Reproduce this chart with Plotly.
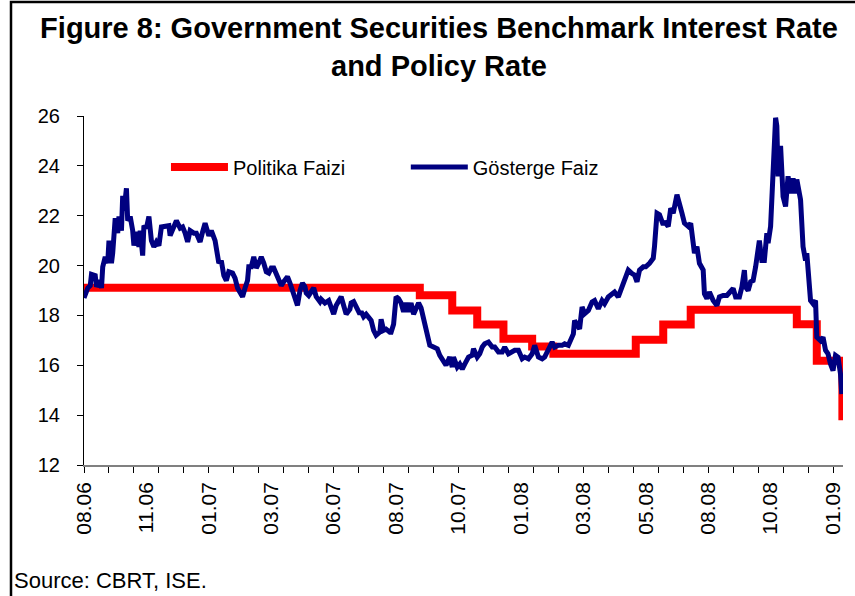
import plotly.graph_objects as go

# ---- data (x = trading-day index from the start of the axis) ----
tick_days = [0, 50, 100, 150, 200, 250, 300, 350, 400, 450, 500, 550, 600]
tick_labels = ["08.06", "11.06", "01.07", "03.07", "06.07", "08.07", "10.07",
               "01.08", "03.08", "05.08", "08.08", "10.08", "01.09"]

policy_day = [0, 269, 295, 315, 336, 359, 376, 442, 464, 486, 571, 587, 607.5]
policy_rate = [19.11, 18.81, 18.2, 17.64, 17.06, 16.75, 16.46, 17.02, 17.64,
               18.23, 17.65, 16.18, 13.8]

bench_day = [
    0, 3, 5, 6, 9, 10, 13, 14, 15, 17,
    19, 20, 22, 23, 25, 27, 28, 30, 31, 32,
    34, 35, 37, 39, 40, 42, 44, 45, 47, 48,
    50, 52, 54, 56, 58, 60, 62, 65, 68, 69,
    72, 74, 77, 79, 81, 83, 85, 88, 90, 93,
    95, 97, 100, 102, 105, 107, 108, 110, 112, 114,
    116, 119, 121, 123, 125, 127, 129, 131, 132, 134,
    136, 138, 140, 142, 144, 146, 148, 150, 152, 154,
    156, 158, 160, 163, 165, 167, 169, 171, 173, 175,
    177, 178, 180, 182, 184, 186, 189, 190, 193, 196,
    198, 200, 202, 205, 206, 208, 210, 213, 214, 216,
    218, 221, 222, 224, 226, 229, 230, 232, 234, 237,
    238, 240, 242, 245, 246, 248, 250, 252, 254, 256,
    258, 260, 262, 264, 266, 268, 270,
    273, 275, 277, 280, 283, 285, 288, 290, 293, 295,
    296, 299, 301, 303, 305, 308, 311, 312, 315, 317,
    319, 321, 324, 327, 329, 332, 335, 337, 340, 343,
    345, 348, 351, 353, 356, 359, 361, 364, 367, 369,
    372, 375, 377, 380, 383, 385, 388, 390, 392, 393,
    395, 397, 399, 401, 404, 407, 409, 412, 415, 417,
    420, 423, 425, 428, 431, 433, 436, 439, 441, 443,
    445, 448, 450, 453, 456, 457, 459, 461, 464, 465,
    468, 470, 472, 475, 477, 479, 481, 484, 486, 488,
    489, 491, 493, 496, 497, 499, 501, 504, 507, 509,
    512, 515, 517, 520, 522, 525, 527, 529, 530, 532,
    534, 536, 538, 540, 541, 543, 545, 547, 548, 550,
    551, 552, 554, 555, 556, 558, 560, 562, 564, 566,
    568, 570, 571, 574, 576, 578, 579, 582, 584, 586,
    587, 590, 592, 594, 596, 598, 600, 602, 604, 606,
    607,
]
bench_rate = [
    18.7, 19.1, 19.2, 19.65, 19.6, 19.15, 19.4, 19.1, 19.95, 20.35,
    20.1, 21.0, 20.1, 20.5, 21.9, 21.3, 21.97, 21.4, 22.8, 22.2,
    23.1, 21.8, 21.97, 21.4, 20.8, 21.35, 20.75, 21.4, 20.4, 21.6,
    21.5, 21.97, 21.0, 20.75, 20.95, 20.8, 21.55, 21.6, 21.6, 21.2,
    21.55, 21.8, 21.5, 21.55, 21.3, 20.95, 21.4, 21.3, 21.3, 20.95,
    21.35, 21.7, 21.2, 21.4, 21.0, 20.4, 20.1, 20.2, 19.6, 19.4,
    19.75, 19.7, 19.5, 19.1, 18.95, 18.75, 19.1, 19.4, 19.95, 19.95,
    20.35, 19.9, 20.1, 20.35, 20.1, 19.75, 19.7, 19.9, 19.9, 19.7,
    19.5, 19.2, 19.35, 19.55, 19.3, 18.95, 18.6, 18.4, 19.0, 19.3,
    19.15, 18.9, 18.8, 19.0, 19.1, 18.75, 18.55, 18.65, 18.5, 18.6,
    18.35, 18.05, 18.4, 18.6, 18.75, 18.4, 18.05, 18.25, 18.5, 18.55,
    18.35, 18.05, 18.15, 17.95, 18.05, 17.8, 17.8, 17.4, 17.2, 17.33,
    17.85, 17.4, 17.45, 17.33, 17.33, 17.65, 18.75, 18.67, 18.5, 18.15,
    18.5, 18.15, 18.5, 18.05, 18.25, 18.5, 18.3,
    17.65, 17.05, 16.8, 16.73, 16.66, 16.4, 16.2, 16.0, 16.33, 15.93,
    16.33, 15.93, 16.05, 15.85, 16.05, 16.33, 16.4, 16.66, 16.33, 16.46,
    16.73, 16.86, 16.93, 16.73, 16.73, 16.53, 16.53, 16.73, 16.46, 16.53,
    16.6, 16.6, 16.26, 16.33, 16.26, 16.46, 16.8, 16.33, 16.26, 16.33,
    16.66, 16.93, 16.73, 16.8, 16.8, 16.86, 16.8, 17.06, 17.26, 17.8,
    17.66, 17.46, 18.34, 18.07, 18.2, 18.54, 18.6, 18.27, 18.6, 18.47,
    18.74, 18.87, 18.94, 18.74, 19.14, 19.48, 19.82, 19.68, 19.62, 19.35,
    19.82, 19.95, 19.95, 20.09, 20.29, 20.76, 22.1, 22.04, 21.63, 21.77,
    21.57, 22.3, 22.1, 22.84, 22.37, 22.1, 21.7, 21.57, 21.7, 20.9,
    20.5, 20.76, 20.09, 19.82, 18.87, 18.67, 18.94, 18.6, 18.4, 18.74,
    18.8, 18.8, 18.94, 19.08, 18.74, 18.74, 19.14, 19.82, 19.14, 19.0,
    19.35, 19.4, 19.95, 20.76, 21.0, 20.2, 20.2, 21.3, 20.9, 21.57,
    22.64, 23.98, 25.93, 25.6, 23.58, 24.8, 22.77, 22.37, 23.58, 22.9,
    23.5, 22.9, 23.45, 22.64, 20.76, 20.2, 20.5, 18.6, 18.47, 18.6,
    17.13, 16.99, 17.13, 16.6, 16.46, 16.05, 15.79, 16.4, 16.33, 15.65,
    14.84,
]

minor_tick_days = list(range(0, 601, 20))

FONT = "Liberation Sans, Arial, sans-serif"

fig = go.Figure()
fig.add_trace(go.Scatter(
    x=policy_day, y=policy_rate, mode="lines", name="Politika Faizi",
    line=dict(color="#FF0000", width=8, shape="hv"), legend="legend",
))
fig.add_trace(go.Scatter(
    x=bench_day, y=bench_rate, mode="lines", name="Gösterge Faiz",
    line=dict(color="#000080", width=5), legend="legend2",
))

fig.update_layout(
    width=855, height=596,
    margin=dict(l=84, r=12, t=116, b=131),
    paper_bgcolor="white", plot_bgcolor="white",
    font=dict(family=FONT, color="black", size=20),
    title=dict(
        text="Figure 8: Government Securities Benchmark Interest Rate<br>and Policy Rate",
        x=439 / 855, xanchor="center", y=1 - 38 / 596, yanchor="middle",
        font=dict(family=FONT, size=29, color="black", weight="bold"),
    ),
    legend=dict(x=0.108, y=0.854, xanchor="left", yanchor="middle",
                orientation="h", itemwidth=57, bgcolor="rgba(0,0,0,0)",
                font=dict(size=20)),
    legend2=dict(x=0.424, y=0.854, xanchor="left", yanchor="middle",
                 orientation="h", itemwidth=57, bgcolor="rgba(0,0,0,0)",
                 font=dict(size=20)),
    showlegend=True,
)

fig.update_xaxes(
    range=[0, 608], showgrid=False, zeroline=False,
    showline=True, linecolor="#808080", linewidth=1.5,
    tickmode="array", tickvals=tick_days, ticktext=tick_labels,
    tickangle=-90, ticks="outside", ticklen=6, tickcolor="rgba(0,0,0,0)",
    ticklabelstandoff=1,
    tickfont=dict(size=21),
    minor=dict(tickmode="array", tickvals=minor_tick_days, ticks="outside",
               ticklen=6, tickcolor="black", tickwidth=1, showgrid=False),
)
fig.update_yaxes(
    range=[12, 26], dtick=2, tick0=12, showgrid=False, zeroline=False,
    showline=True, linecolor="black", linewidth=1,
    ticks="outside", ticklen=6, tickcolor="black",
    ticklabelstandoff=13, tickfont=dict(size=20),
)

# outer frame of the figure
fig.add_shape(type="rect", xref="paper", yref="paper",
              x0=(11 - 84) / 759, x1=1.1, y0=-0.6, y1=(465 - 2) / 349,
              line=dict(color="black", width=2.5), fillcolor="rgba(0,0,0,0)",
              layer="above")

fig.add_annotation(text="Source: CBRT, ISE.", xref="paper", yref="paper",
                   x=(12 - 84) / 759, y=(465 - 580) / 349,
                   xanchor="left", yanchor="middle", showarrow=False,
                   font=dict(family=FONT, size=22, color="black"))

fig.write_html(
    "out.html",
    config={"displayModeBar": False},
    post_script="document.body.style.margin='0';document.body.style.padding='0';",
)
